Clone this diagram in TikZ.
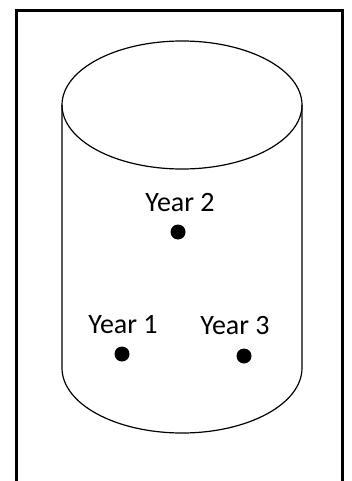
\documentclass[tikz,border=0pt]{standalone}
\usepackage{fontspec}
\setmainfont{Carlito}
\begin{document}
\begin{tikzpicture}[x=1pt, y=-1pt,
  yeardot/.style={circle, fill=black, inner sep=0pt, minimum size=15pt},
  yearlabel/.style={font=\fontsize{28}{31}\selectfont, inner sep=0pt}]
  \useasboundingbox (0,0) rectangle (351,481);
  % frame
  \draw[line width=3pt] (16.5,490) -- (16.5,10.5) -- (342,10.5) -- (342,490);
  % cylinder
  \draw[line width=1.2pt] (182,105) ellipse [x radius=120, y radius=64];
  \draw[line width=1.2pt] (62,105) -- (62,368) arc [start angle=180, end angle=0, x radius=120, y radius=65] -- (302,105);
  % points
  \node[yeardot] (y2) at (178,232) {};
  \node[yeardot] (y1) at (122,354) {};
  \node[yeardot] (y3) at (244,356) {};
  \node[yearlabel] (l2) at (180,203) {Year 2};
  \node[yearlabel] (l1) at (123,325) {Year 1};
  \node[yearlabel] (l3) at (235,326) {Year 3};
\end{tikzpicture}
\end{document}
